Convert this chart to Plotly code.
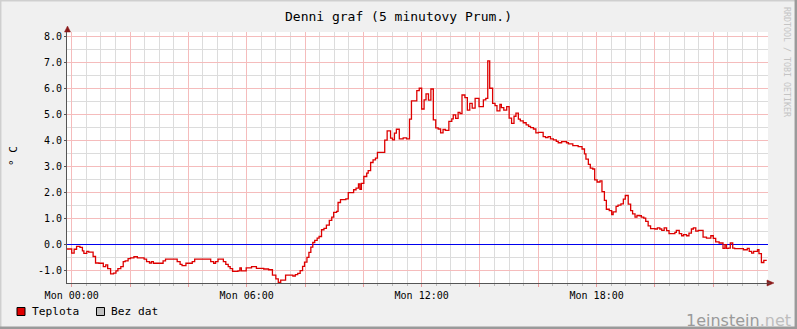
import plotly.graph_objects as go

# ---------------- data ----------------
# time in minutes after Monday 00:00, value in deg C (5-minute averages, step line)
minutes = [
    -10, 0, 5, 10, 17, 22, 25, 31, 35, 44, 49, 56, 65, 70, 74, 80, 86, 91, 95, 101,
    106, 110, 116, 121, 128, 135, 149, 154, 160, 164, 168, 188, 193, 217, 223, 227,
    235, 248, 253, 286, 292, 296, 301, 312, 317, 322, 326, 331, 342, 346, 349,
    359, 370, 380, 395, 405, 413, 420, 425, 430, 440, 455, 460, 465, 470, 475,
    479, 484, 488, 492, 496, 500, 505, 509, 514, 519, 524, 530, 535, 539, 545,
    548, 553, 564, 569, 580, 585, 590, 593, 596, 601, 607, 610, 615, 620, 625,
    629, 644, 649, 656, 660, 664, 668, 674, 682, 689,
    695, 699, 710, 715, 720, 725, 729, 734, 739, 744, 749, 754, 759, 764, 769,
    776, 782, 785, 790, 795, 799, 803, 809, 814, 819, 824, 830, 838, 847, 852,
    856, 860, 866, 871, 875, 881, 884, 889, 895, 900, 905, 910, 914, 919, 923,
    929, 935, 940, 944, 950, 955, 960, 970, 975, 980, 985, 991, 997, 1001, 1008,
    1018, 1022, 1031, 1042, 1050, 1055, 1058, 1063, 1067, 1072, 1076, 1081, 1087,
    1091, 1096, 1100, 1106, 1111, 1114, 1120, 1124, 1130, 1135, 1139, 1145, 1150,
    1154, 1159, 1163, 1168, 1172, 1177, 1181, 1186, 1191, 1200, 1205, 1210, 1214,
    1219, 1224, 1229, 1241, 1244, 1250, 1255, 1259, 1265, 1270, 1275, 1279, 1284,
    1289, 1299, 1306, 1315, 1320, 1325, 1332, 1340, 1344, 1347, 1351, 1355, 1360,
    1364, 1382, 1390, 1394, 1399, 1403, 1411, 1414, 1419, 1424, 1430,
]
teplota = [
    -0.19, -0.35, -0.20, -0.09, -0.13, -0.26, -0.36, -0.28, -0.31, -0.48, -0.73, -0.74,
    -0.87, -0.80, -0.95, -1.15, -1.12, -1.03, -0.95, -0.87, -0.68, -0.65, -0.56, -0.53,
    -0.49, -0.53, -0.58, -0.68, -0.73, -0.68, -0.74, -0.65, -0.58, -0.68, -0.78, -0.83,
    -0.74, -0.68, -0.58, -0.68, -0.74, -0.68, -0.58, -0.68, -0.78, -0.87, -0.95, -1.05,
    -1.03, -0.92, -1.03,
    -0.92, -0.87, -0.94, -0.96, -0.99, -1.20, -1.34, -1.48, -1.39, -1.20, -1.23, -1.18,
    -1.13, -1.02, -0.86,
    -0.70, -0.51, -0.32, -0.12, 0.06, 0.14, 0.23, 0.29, 0.55, 0.60, 0.73, 0.91, 1.04,
    1.22, 1.26, 1.60, 1.71, 1.74, 1.98, 2.09, 2.15, 2.32, 2.11, 2.34, 2.60, 2.73, 2.83,
    3.14, 3.24, 3.31, 3.53, 4.00, 4.36, 4.08, 4.01, 4.27, 4.42, 4.05, 4.09, 4.05,
    4.81, 5.51, 5.91, 6.00, 5.20, 5.55, 5.78, 5.54, 5.97, 4.78, 4.47, 4.43, 4.28, 4.41,
    4.38, 4.72, 4.82, 4.97, 4.84, 5.07, 5.02, 5.74, 5.64, 5.16, 5.42, 5.23, 5.61, 5.29,
    5.55, 5.61, 7.05, 6.00, 5.42, 5.33, 5.13, 5.38, 5.25, 5.16, 5.29, 4.85, 4.65, 4.92,
    5.04, 4.81, 4.74, 4.67, 4.59, 4.53, 4.48, 4.43, 4.28, 4.30, 4.14, 4.10, 4.14, 4.05,
    4.01, 3.95, 3.90, 3.94, 3.90, 3.86, 3.79, 3.75, 3.66, 3.47, 3.27, 3.07, 2.92, 2.89,
    2.47, 2.39, 2.43, 2.02, 1.68, 1.34, 1.29, 1.13, 1.24, 1.45, 1.50, 1.55, 1.73, 1.87,
    1.54, 1.29, 1.16, 1.04, 1.10, 1.09, 1.04, 1.00, 0.87, 0.70, 0.59, 0.58, 0.62, 0.58,
    0.53, 0.62, 0.52, 0.40, 0.45, 0.53, 0.40, 0.32, 0.36, 0.32, 0.42, 0.58, 0.62, 0.50,
    0.53, 0.27, 0.23, 0.32, 0.22, 0.08, 0.04, -0.17, -0.02, -0.17, -0.16, 0.04, -0.16,
    -0.18, -0.22, -0.17, -0.28, -0.35, -0.28, -0.22, -0.37, -0.71, -0.63, -0.63,
]

x_tick_minutes = [0, 120, 240, 360, 480, 600, 720, 840, 960, 1080, 1200, 1320]
x_tick_labels = ["Mon 00:00", "", "", "Mon 06:00", "", "", "Mon 12:00", "", "",
                 "Mon 18:00", "", ""]
y_tick_values = [-1, 0, 1, 2, 3, 4, 5, 6, 7, 8]
y_tick_labels = ["-1.0", "0.0", "1.0", "2.0", "3.0", "4.0", "5.0", "6.0", "7.0", "8.0"]

title_text = "Denni graf (5 minutovy Prum.)"
y_label = "° C"
legend_items = ["Teplota", "Bez dat"]
side_text = "RRDTOOL / TOBI OETIKER"

# ---------------- layout helpers (pixel -> paper) ----------------
W, H = 797, 329
L, R, T, B = 67, 768, 32, 283


def PX(x):
    return (x - L) / (R - L)


def PY(y):
    return (B - y) / (B - T)


MONO = "DejaVu Sans Mono"
MAJOR = "#f5bcbc"
MINOR = "#dcdcdc"
LINE_RED = "#dd0000"

fig = go.Figure()
fig.add_trace(go.Scatter(
    x=minutes, y=teplota, mode="lines", line=dict(color=LINE_RED, width=1.3, shape="hv"),
    hoverinfo="skip", showlegend=False,
))

fig.update_layout(
    width=W, height=H, autosize=False,
    margin=dict(l=L, r=W - R, t=T, b=H - B, pad=0),
    paper_bgcolor="#f0f0f0", plot_bgcolor="#ffffff",
    font=dict(family=MONO, size=10, color="#000000"),
    showlegend=False,
    title=dict(text=title_text, x=0.5, xref="container", xanchor="center",
               y=1 - 16.5 / H, yref="container", yanchor="middle",
               font=dict(family=MONO, size=13, color="#000000")),
)

fig.update_xaxes(
    range=[-9.7, 1432.6], tickmode="array", tickvals=x_tick_minutes, ticktext=x_tick_labels,
    showgrid=True, gridcolor=MAJOR, gridwidth=1,
    minor=dict(dtick=30, tick0=0, showgrid=True, gridcolor=MINOR, gridwidth=1,
               ticks="outside", ticklen=2, tickcolor="#bbbbbb"),
    ticks="outside", ticklen=3, tickcolor="#e89a9a",
    showline=True, linecolor="#555555", linewidth=1,
    zeroline=False, tickfont=dict(family=MONO, size=10, color="#000000"),
    fixedrange=True,
)
fig.update_yaxes(
    range=[-1.5, 8.165], tickmode="array", tickvals=y_tick_values, ticktext=y_tick_labels,
    showgrid=True, gridcolor=MAJOR, gridwidth=1,
    minor=dict(dtick=0.5, tick0=0, showgrid=True, gridcolor=MINOR, gridwidth=1),
    ticks="outside", ticklen=2, tickcolor="#555555",
    showline=True, linecolor="#555555", linewidth=1,
    zeroline=True, zerolinecolor="#0000ee", zerolinewidth=1,
    tickfont=dict(family=MONO, size=10, color="#000000"),
    fixedrange=True,
)

shapes = []
# 3D-ish outer border
shapes.append(dict(type="line", xref="paper", yref="paper", x0=PX(0), x1=PX(W), y0=PY(0.7), y1=PY(0.7),
                   line=dict(color="#cfcfcf", width=1.5)))
shapes.append(dict(type="line", xref="paper", yref="paper", x0=PX(0.7), x1=PX(0.7), y0=PY(0), y1=PY(H),
                   line=dict(color="#cfcfcf", width=1.5)))
shapes.append(dict(type="line", xref="paper", yref="paper", x0=PX(0), x1=PX(W), y0=PY(H - 1.2), y1=PY(H - 1.2),
                   line=dict(color="#9a9a9a", width=2.5)))
shapes.append(dict(type="line", xref="paper", yref="paper", x0=PX(W - 1.2), x1=PX(W - 1.2), y0=PY(0), y1=PY(H),
                   line=dict(color="#9a9a9a", width=2.5)))
# axis arrows
shapes.append(dict(type="path", xref="paper", yref="paper",
                   path=f"M {PX(64.5)},{PY(32)} L {PX(67.5)},{PY(26)} L {PX(70.5)},{PY(32)} Z",
                   fillcolor="#8b1a1a", line=dict(color="#8b1a1a", width=0.5)))
shapes.append(dict(type="path", xref="paper", yref="paper",
                   path=f"M {PX(767)},{PY(280)} L {PX(774)},{PY(283)} L {PX(767)},{PY(286)} Z",
                   fillcolor="#8b1a1a", line=dict(color="#8b1a1a", width=0.5)))
# x-axis line extension to arrow
shapes.append(dict(type="line", xref="paper", yref="paper", x0=PX(767), x1=PX(770), y0=PY(283), y1=PY(283),
                   line=dict(color="#555555", width=1)))
# legend boxes
shapes.append(dict(type="rect", xref="paper", yref="paper", x0=PX(17), x1=PX(25), y0=PY(307.5), y1=PY(315.5),
                   fillcolor="#e00000", line=dict(color="#000000", width=1)))
shapes.append(dict(type="rect", xref="paper", yref="paper", x0=PX(96.5), x1=PX(104.5), y0=PY(307.5), y1=PY(315.5),
                   fillcolor="#c0c0c0", line=dict(color="#000000", width=1)))
fig.update_layout(shapes=shapes)

annotations = [
    dict(text=legend_items[0], xref="paper", yref="paper", x=PX(30), y=PY(311.5),
         xanchor="left", yanchor="middle", showarrow=False,
         font=dict(family=MONO, size=11.2, color="#000000")),
    dict(text=legend_items[1], xref="paper", yref="paper", x=PX(108.5), y=PY(311.5),
         xanchor="left", yanchor="middle", showarrow=False,
         font=dict(family=MONO, size=11.2, color="#000000")),
    dict(text=y_label, xref="paper", yref="paper", x=PX(13), y=PY(156),
         xanchor="center", yanchor="middle", textangle=-90, showarrow=False,
         font=dict(family=MONO, size=11, color="#000000")),
    dict(text=side_text, xref="paper", yref="paper", x=PX(787), y=PY(62),
         xanchor="center", yanchor="middle", textangle=90, showarrow=False,
         font=dict(family=MONO, size=8.3, color="#c4c4c4")),
    dict(text='<span style="color:#9a9a9a">1einstein</span><span style="color:#bdbdbd">.net</span>',
         xref="paper", yref="paper", x=PX(793), y=PY(320.5),
         xanchor="right", yanchor="middle", showarrow=False,
         font=dict(family="DejaVu Sans", size=16, color="#9a9a9a")),
]
fig.update_layout(annotations=annotations)

fig.write_html("out.html", include_plotlyjs=True, config={"displayModeBar": False})
